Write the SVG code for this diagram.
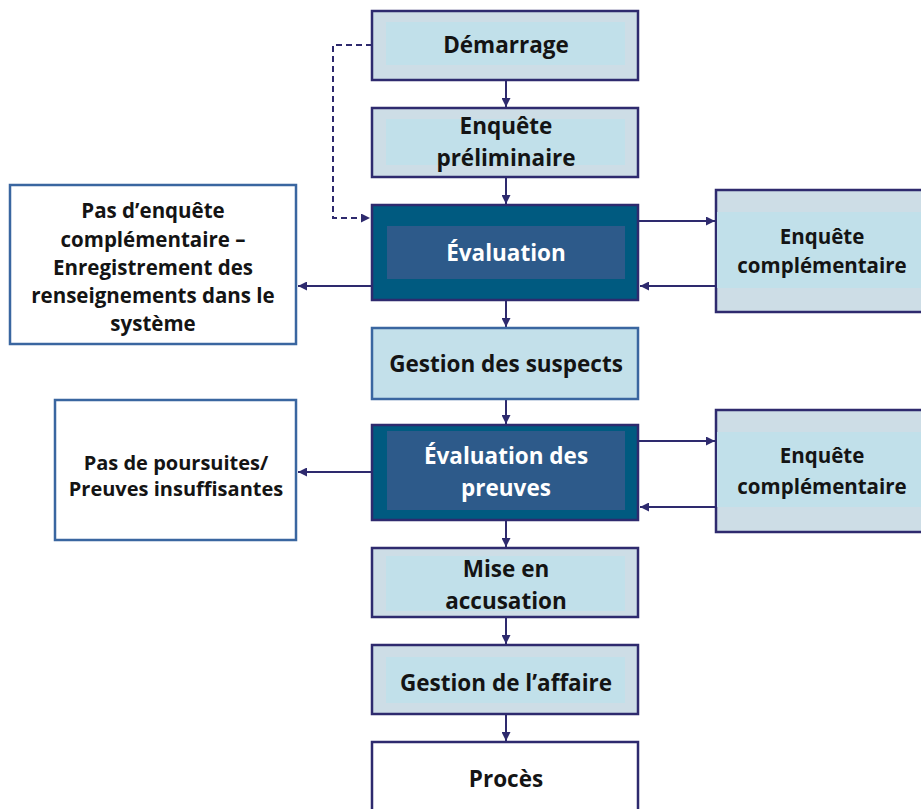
<svg xmlns="http://www.w3.org/2000/svg" width="921" height="809" viewBox="0 0 921 809">
<defs>
<style>
.t{font-family:"Open Sans",Lato,"Liberation Sans",sans-serif;font-weight:bold;font-size:20.5px;fill:#141414;text-anchor:middle;dominant-baseline:central}
.m{font-size:22.5px}
.s{font-size:20px}
.w{fill:#ffffff}
.light{fill:#cddde6;stroke:#2e2a6e;stroke-width:2.5}
.inner{fill:#c1e0ea}
.dark{fill:#005a80;stroke:#2e2a6e;stroke-width:2.5}
.dinner{fill:#2d5a8a}
.blue{fill:#c3e0ea;stroke:#3a66a0;stroke-width:2.5}
.white{fill:#ffffff;stroke:#3a66a0;stroke-width:2.5}
.wnavy{fill:#ffffff;stroke:#2e2a6e;stroke-width:2.5}
.c{fill:none;stroke:#2e2a6e;stroke-width:2}
.d{fill:none;stroke:#2e2a6e;stroke-width:2;stroke-dasharray:6,4}
</style>
<marker id="ah" viewBox="0 0 10 10" refX="10" refY="5" markerWidth="9" markerHeight="9" orient="auto" markerUnits="userSpaceOnUse">
<path d="M0,0 L10,5 L0,10 z" fill="#2e2a6e"/>
</marker>
</defs>
<rect width="921" height="809" fill="#ffffff"/>

<g id="connectors">
<path class="d" d="M372,45 H333 V218 H370" marker-end="url(#ah)"/>
<path class="c" d="M506,80 V107" marker-end="url(#ah)"/>
<path class="c" d="M506,177 V204" marker-end="url(#ah)"/>
<path class="c" d="M638,221 H715" marker-end="url(#ah)"/>
<path class="c" d="M716,286 H640" marker-end="url(#ah)"/>
<path class="c" d="M372,286 H298" marker-end="url(#ah)"/>
<path class="c" d="M506,300 V327" marker-end="url(#ah)"/>
<path class="c" d="M506,399 V424" marker-end="url(#ah)"/>
<path class="c" d="M638,441 H715" marker-end="url(#ah)"/>
<path class="c" d="M716,507 H640" marker-end="url(#ah)"/>
<path class="c" d="M372,472 H298" marker-end="url(#ah)"/>
<path class="c" d="M506,520 V547" marker-end="url(#ah)"/>
<path class="c" d="M506,617 V644" marker-end="url(#ah)"/>
<path class="c" d="M506,714 V741" marker-end="url(#ah)"/>
</g>

<g id="demarrage">
<rect class="light" x="372" y="11" width="266" height="69"/>
<rect class="inner" x="386" y="22" width="239" height="43"/>
<text class="t m" x="506" y="44">Démarrage</text>
</g>

<g id="enquete-preliminaire">
<rect class="light" x="372" y="108" width="266" height="69"/>
<rect class="inner" x="386" y="119" width="239" height="46"/>
<text class="t m" x="506" y="125">Enquête</text>
<text class="t m" x="506" y="157">préliminaire</text>
</g>

<g id="evaluation">
<rect class="dark" x="372" y="205" width="266" height="95"/>
<rect class="dinner" x="387" y="226" width="238" height="53"/>
<text class="t m w" x="506" y="252">Évaluation</text>
</g>

<g id="enquete-complementaire-1">
<rect class="light" x="716" y="190" width="215" height="122"/>
<rect class="inner" x="717" y="212" width="204" height="76"/>
<text class="t" x="822" y="236">Enquête</text>
<text class="t" x="822" y="265">complémentaire</text>
</g>

<g id="pas-enquete">
<rect class="white" x="10" y="185" width="286" height="159"/>
<text class="t" x="153" y="210">Pas d’enquête</text>
<text class="t" x="153" y="239">complémentaire –</text>
<text class="t" x="153" y="267">Enregistrement des</text>
<text class="t" x="153" y="295">renseignements dans le</text>
<text class="t" x="153" y="323">système</text>
</g>

<g id="gestion-suspects">
<rect class="blue" x="372" y="328" width="266" height="71"/>
<text class="t m" x="506" y="363">Gestion des suspects</text>
</g>

<g id="evaluation-preuves">
<rect class="dark" x="372" y="425" width="266" height="95"/>
<rect class="dinner" x="387" y="431" width="238" height="79"/>
<text class="t m w" x="506" y="455">Évaluation des</text>
<text class="t m w" x="506" y="487">preuves</text>
</g>

<g id="enquete-complementaire-2">
<rect class="light" x="716" y="410" width="215" height="122"/>
<rect class="inner" x="717" y="432" width="204" height="75"/>
<text class="t" x="822" y="455">Enquête</text>
<text class="t" x="822" y="486">complémentaire</text>
</g>

<g id="pas-poursuites">
<rect class="white" x="55" y="400" width="241" height="140"/>
<text class="t s" x="176" y="462">Pas de poursuites/</text>
<text class="t s" x="176" y="488">Preuves insuffisantes</text>
</g>

<g id="mise-en-accusation">
<rect class="light" x="372" y="548" width="266" height="69"/>
<rect class="inner" x="386" y="556" width="239" height="55"/>
<text class="t m" x="506" y="568">Mise en</text>
<text class="t m" x="506" y="600">accusation</text>
</g>

<g id="gestion-affaire">
<rect class="light" x="372" y="645" width="266" height="69"/>
<rect class="inner" x="386" y="657" width="239" height="46"/>
<text class="t m" x="506" y="682">Gestion de l’affaire</text>
</g>

<g id="proces">
<rect class="wnavy" x="372" y="742" width="266" height="80"/>
<text class="t m" x="506" y="778">Procès</text>
</g>
</svg>
